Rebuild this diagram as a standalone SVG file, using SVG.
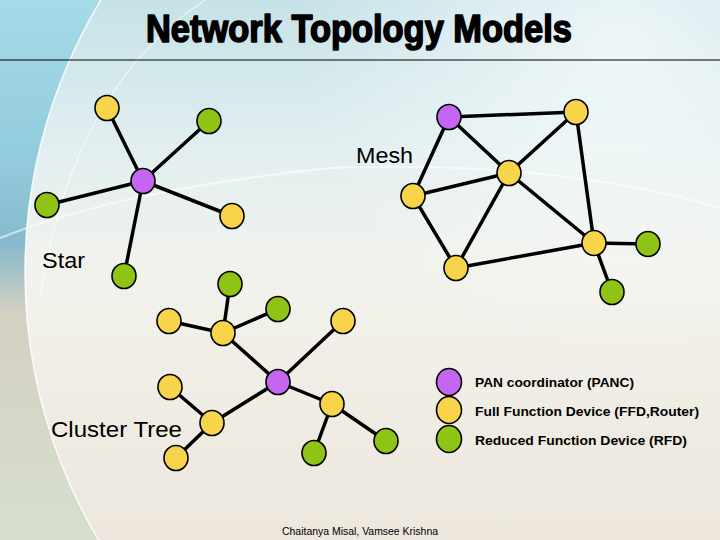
<svg xmlns="http://www.w3.org/2000/svg" width="720" height="540" viewBox="0 0 720 540">
<defs>
<linearGradient id="bg" gradientUnits="userSpaceOnUse" x1="0" y1="0" x2="0" y2="540">
<stop offset="0" stop-color="#c6e2e8"/>
<stop offset="0.28" stop-color="#e2eff0"/>
<stop offset="0.5" stop-color="#f2f2ec"/>
<stop offset="1" stop-color="#ede7dd"/>
</linearGradient>
<linearGradient id="leftband" gradientUnits="userSpaceOnUse" x1="0" y1="0" x2="0" y2="540">
<stop offset="0" stop-color="#a4dbe8"/>
<stop offset="0.3" stop-color="#92cbdc"/>
<stop offset="0.45" stop-color="#86b9cc"/>
<stop offset="0.58" stop-color="#d4d0c2"/>
<stop offset="1" stop-color="#d6dfcc"/>
</linearGradient>
<radialGradient id="glow" gradientUnits="userSpaceOnUse" cx="620" cy="40" r="320">
<stop offset="0" stop-color="#ffffff" stop-opacity="0.65"/>
<stop offset="1" stop-color="#ffffff" stop-opacity="0"/>
</radialGradient>
<style>
.edge{stroke:#000;stroke-width:3.5;fill:none;stroke-linecap:round}
.n{stroke:#000;stroke-width:1.6}
.panc{fill:#c466f2}
.ffd{fill:#f8d44a}
.rfd{fill:#8fc416}
.lbl{font-family:"Liberation Sans",Arial,sans-serif;font-size:22px;fill:#000}
.leg{font-family:"Liberation Sans",Arial,sans-serif;font-size:13.5px;font-weight:bold;fill:#000}
</style>
</defs>
<g id="background">
<rect x="0" y="0" width="720" height="540" fill="url(#leftband)"/>
<circle cx="550" cy="272" r="525" fill="url(#bg)"/>
<rect x="0" y="0" width="720" height="540" fill="url(#glow)"/>
<circle cx="550" cy="272" r="525" fill="none" stroke="#ffffff" stroke-opacity="0.85" stroke-width="1.5"/>
<path d="M205 0 Q70 90 40 300" fill="none" stroke="#ffffff" stroke-opacity="0.6" stroke-width="1.2"/>
<path d="M0 238 Q120 190 330 168 Q560 160 720 208" fill="none" stroke="#ffffff" stroke-opacity="0.6" stroke-width="2"/>
</g>
<g id="title">
<text x="146" y="42" font-family="'Liberation Sans Narrow','Liberation Sans',Arial,sans-serif" font-size="38" font-weight="bold" fill="#000" stroke="#000" stroke-width="1.6" stroke-linejoin="round" textLength="426" lengthAdjust="spacingAndGlyphs">Network Topology Models</text>
<line x1="0" y1="60" x2="720" y2="60" stroke="#000" stroke-width="1"/>
</g>
<g id="connectors">
<line class="edge" x1="143" y1="181" x2="107" y2="108"/>
<line class="edge" x1="143" y1="181" x2="209" y2="121"/>
<line class="edge" x1="143" y1="181" x2="47" y2="205"/>
<line class="edge" x1="143" y1="181" x2="232" y2="216"/>
<line class="edge" x1="143" y1="181" x2="124" y2="276"/>
<line class="edge" x1="449" y1="117" x2="576" y2="112"/>
<line class="edge" x1="449" y1="117" x2="509" y2="173"/>
<line class="edge" x1="449" y1="117" x2="413" y2="196"/>
<line class="edge" x1="576" y1="112" x2="509" y2="173"/>
<line class="edge" x1="576" y1="112" x2="594" y2="243"/>
<line class="edge" x1="509" y1="173" x2="413" y2="196"/>
<line class="edge" x1="509" y1="173" x2="456" y2="268"/>
<line class="edge" x1="509" y1="173" x2="594" y2="243"/>
<line class="edge" x1="413" y1="196" x2="456" y2="268"/>
<line class="edge" x1="456" y1="268" x2="594" y2="243"/>
<line class="edge" x1="594" y1="243" x2="648" y2="244"/>
<line class="edge" x1="594" y1="243" x2="612" y2="292"/>
<line class="edge" x1="278" y1="382" x2="223" y2="333"/>
<line class="edge" x1="278" y1="382" x2="343" y2="321"/>
<line class="edge" x1="278" y1="382" x2="332" y2="404"/>
<line class="edge" x1="278" y1="382" x2="212" y2="423"/>
<line class="edge" x1="223" y1="333" x2="230" y2="284"/>
<line class="edge" x1="223" y1="333" x2="169" y2="321"/>
<line class="edge" x1="223" y1="333" x2="278" y2="309"/>
<line class="edge" x1="332" y1="404" x2="386" y2="441"/>
<line class="edge" x1="332" y1="404" x2="314" y2="453"/>
<line class="edge" x1="212" y1="423" x2="170" y2="387"/>
<line class="edge" x1="212" y1="423" x2="176" y2="458"/>
</g>
<g id="star-nodes">
<g id="star-panc"><ellipse class="n panc" cx="143" cy="181" rx="12" ry="12.5"/></g>
<g id="star-ffd1"><ellipse class="n ffd" cx="107" cy="108" rx="12" ry="12.5"/></g>
<g id="star-rfd1"><ellipse class="n rfd" cx="209" cy="121" rx="12" ry="12.5"/></g>
<g id="star-rfd2"><ellipse class="n rfd" cx="47" cy="205" rx="12" ry="12.5"/></g>
<g id="star-ffd2"><ellipse class="n ffd" cx="232" cy="216" rx="12" ry="12.5"/></g>
<g id="star-rfd3"><ellipse class="n rfd" cx="124" cy="276" rx="12" ry="12.5"/></g>
</g>
<g id="mesh-nodes">
<g id="mesh-panc"><ellipse class="n panc" cx="449" cy="117" rx="12" ry="12.5"/></g>
<g id="mesh-ffd1"><ellipse class="n ffd" cx="576" cy="112" rx="12" ry="12.5"/></g>
<g id="mesh-ffd2"><ellipse class="n ffd" cx="509" cy="173" rx="12" ry="12.5"/></g>
<g id="mesh-ffd3"><ellipse class="n ffd" cx="413" cy="196" rx="12" ry="12.5"/></g>
<g id="mesh-ffd4"><ellipse class="n ffd" cx="456" cy="268" rx="12" ry="12.5"/></g>
<g id="mesh-ffd5"><ellipse class="n ffd" cx="594" cy="243" rx="12" ry="12.5"/></g>
<g id="mesh-rfd1"><ellipse class="n rfd" cx="648" cy="244" rx="12" ry="12.5"/></g>
<g id="mesh-rfd2"><ellipse class="n rfd" cx="612" cy="292" rx="12" ry="12.5"/></g>
</g>
<g id="tree-nodes">
<g id="tree-panc"><ellipse class="n panc" cx="278" cy="382" rx="12" ry="12.5"/></g>
<g id="tree-ffd-hub1"><ellipse class="n ffd" cx="223" cy="333" rx="12" ry="12.5"/></g>
<g id="tree-rfd1"><ellipse class="n rfd" cx="230" cy="284" rx="12" ry="12.5"/></g>
<g id="tree-ffd1"><ellipse class="n ffd" cx="169" cy="321" rx="12" ry="12.5"/></g>
<g id="tree-rfd2"><ellipse class="n rfd" cx="278" cy="309" rx="12" ry="12.5"/></g>
<g id="tree-ffd2"><ellipse class="n ffd" cx="343" cy="321" rx="12" ry="12.5"/></g>
<g id="tree-ffd-hub2"><ellipse class="n ffd" cx="332" cy="404" rx="12" ry="12.5"/></g>
<g id="tree-rfd3"><ellipse class="n rfd" cx="386" cy="441" rx="12" ry="12.5"/></g>
<g id="tree-rfd4"><ellipse class="n rfd" cx="314" cy="453" rx="12" ry="12.5"/></g>
<g id="tree-ffd-hub3"><ellipse class="n ffd" cx="212" cy="423" rx="12" ry="12.5"/></g>
<g id="tree-ffd3"><ellipse class="n ffd" cx="170" cy="387" rx="12" ry="12.5"/></g>
<g id="tree-ffd4"><ellipse class="n ffd" cx="176" cy="458" rx="12" ry="12.5"/></g>
</g>
<g id="labels">
<text class="lbl" x="356" y="163" textLength="57" lengthAdjust="spacingAndGlyphs">Mesh</text>
<text class="lbl" x="42" y="268" textLength="43" lengthAdjust="spacingAndGlyphs">Star</text>
<text class="lbl" x="51" y="437" textLength="131" lengthAdjust="spacingAndGlyphs">Cluster Tree</text>
</g>
<g id="legend">
<g id="legend-panc"><ellipse class="n panc" cx="449" cy="382" rx="12.5" ry="13.5"/>
<text class="leg" x="475" y="387" textLength="159" lengthAdjust="spacingAndGlyphs">PAN coordinator (PANC)</text></g>
<g id="legend-ffd"><ellipse class="n ffd" cx="449" cy="410" rx="12.5" ry="13.5"/>
<text class="leg" x="475" y="416" textLength="224" lengthAdjust="spacingAndGlyphs">Full Function Device (FFD,Router)</text></g>
<g id="legend-rfd"><ellipse class="n rfd" cx="449" cy="439" rx="12.5" ry="13.5"/>
<text class="leg" x="475" y="445" textLength="212" lengthAdjust="spacingAndGlyphs">Reduced Function Device (RFD)</text></g>
</g>
<g id="footer">
<text x="282" y="535" font-family="'Liberation Sans',Arial,sans-serif" font-size="10" fill="#000" textLength="156" lengthAdjust="spacingAndGlyphs">Chaitanya Misal, Vamsee Krishna</text>
</g>
</svg>
